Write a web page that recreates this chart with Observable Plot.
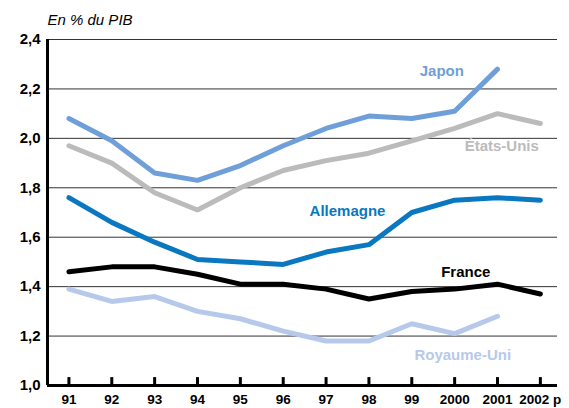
<!DOCTYPE html>
<html><head><meta charset="utf-8">
<script src="https://cdn.jsdelivr.net/npm/d3@7"></script>
<script src="https://cdn.jsdelivr.net/npm/@observablehq/plot@0.6"></script>
<style>body{margin:0;background:#fff}</style>
</head><body><div id="chart"></div>
<script>
const years = [91, 92, 93, 94, 95, 96, 97, 98, 99, 100, 101, 102];
const yearLabels = ["91", "92", "93", "94", "95", "96", "97", "98", "99", "2000", "2001", "2002 p"];
const yTicks = [1.0, 1.2, 1.4, 1.6, 1.8, 2.0, 2.2, 2.4];

const japon      = [2.08, 1.99, 1.86, 1.83, 1.89, 1.97, 2.04, 2.09, 2.08, 2.11, 2.28];
const etatsUnis  = [1.97, 1.90, 1.78, 1.71, 1.80, 1.87, 1.91, 1.94, 1.99, 2.04, 2.10, 2.06];
const allemagne  = [1.76, 1.66, 1.58, 1.51, 1.50, 1.49, 1.54, 1.57, 1.70, 1.75, 1.76, 1.75];
const france     = [1.46, 1.48, 1.48, 1.45, 1.41, 1.41, 1.39, 1.35, 1.38, 1.39, 1.41, 1.37];
const royaumeUni = [1.39, 1.34, 1.36, 1.30, 1.27, 1.22, 1.18, 1.18, 1.25, 1.21, 1.28];

const names  = ["Japon", "États-Unis", "Allemagne", "France", "Royaume-Uni"];
const values = [japon, etatsUnis, allemagne, france, royaumeUni];
const colors = ["#6f9fd8", "#bbbbbb", "#0a78c0", "#000000", "#b7c9ea"];
// label anchors in data units (year, value)
const labelX = [99.7, 101.1, 97.5, 100.26, 100.19];
const labelY = [2.27, 1.968, 1.704, 1.457, 1.121];

const rows = [];
names.forEach((n, k) => values[k].forEach((v, i) => rows.push({country: n, x: years[i], y: v})));
const labels = names.map((n, k) => ({country: n, x: labelX[k], y: labelY[k]}));
const colorOf = Object.fromEntries(names.map((n, k) => [n, colors[k]]));

const chart = Plot.plot({
  width: 569, height: 408,
  marginLeft: 47, marginRight: 12, marginTop: 39, marginBottom: 23,
  x: {domain: [90.5, 102.4]},
  y: {domain: [1, 2.4]},
  style: {fontFamily: "'Liberation Sans', Arial, sans-serif", background: "#fff"},
  marks: [
    Plot.ruleY(yTicks, {stroke: "#333", strokeWidth: 1}),
    Plot.axisY({ticks: yTicks, tickSize: 0, tickPadding: 7, fontSize: 15, fontWeight: "bold", fill: "#000",
      tickFormat: d => d.toFixed(1).replace(".", ","), label: null}),
    Plot.axisX({ticks: years, tickSize: 0, tickPadding: 9, fontSize: 13.5, fontWeight: "bold", fill: "#000",
      tickFormat: d => yearLabels[years.indexOf(d)], label: null}),
    Plot.ruleX(years, {y1: 1, y2: 1.032, stroke: "#000", strokeWidth: 3}),
    Plot.line(rows, {x: "x", y: "y", z: "country", stroke: d => colorOf[d.country], strokeWidth: 5, strokeLinejoin: "miter", strokeLinecap: "round"}),
    Plot.ruleX([90.5], {stroke: "#000", strokeWidth: 3}),
    Plot.ruleY([1], {stroke: "#000", strokeWidth: 3}),
    Plot.text(labels, {x: "x", y: "y", text: "country", fill: d => colorOf[d.country], fontSize: 15, fontWeight: "bold"}),
    Plot.text(["En % du PIB"], {frameAnchor: "top-left", dy: -19, textAnchor: "start", lineAnchor: "middle",
      fontSize: 15, fontStyle: "italic", fill: "#000"})
  ]
});
document.getElementById("chart").append(chart);
</script>
</body></html>
